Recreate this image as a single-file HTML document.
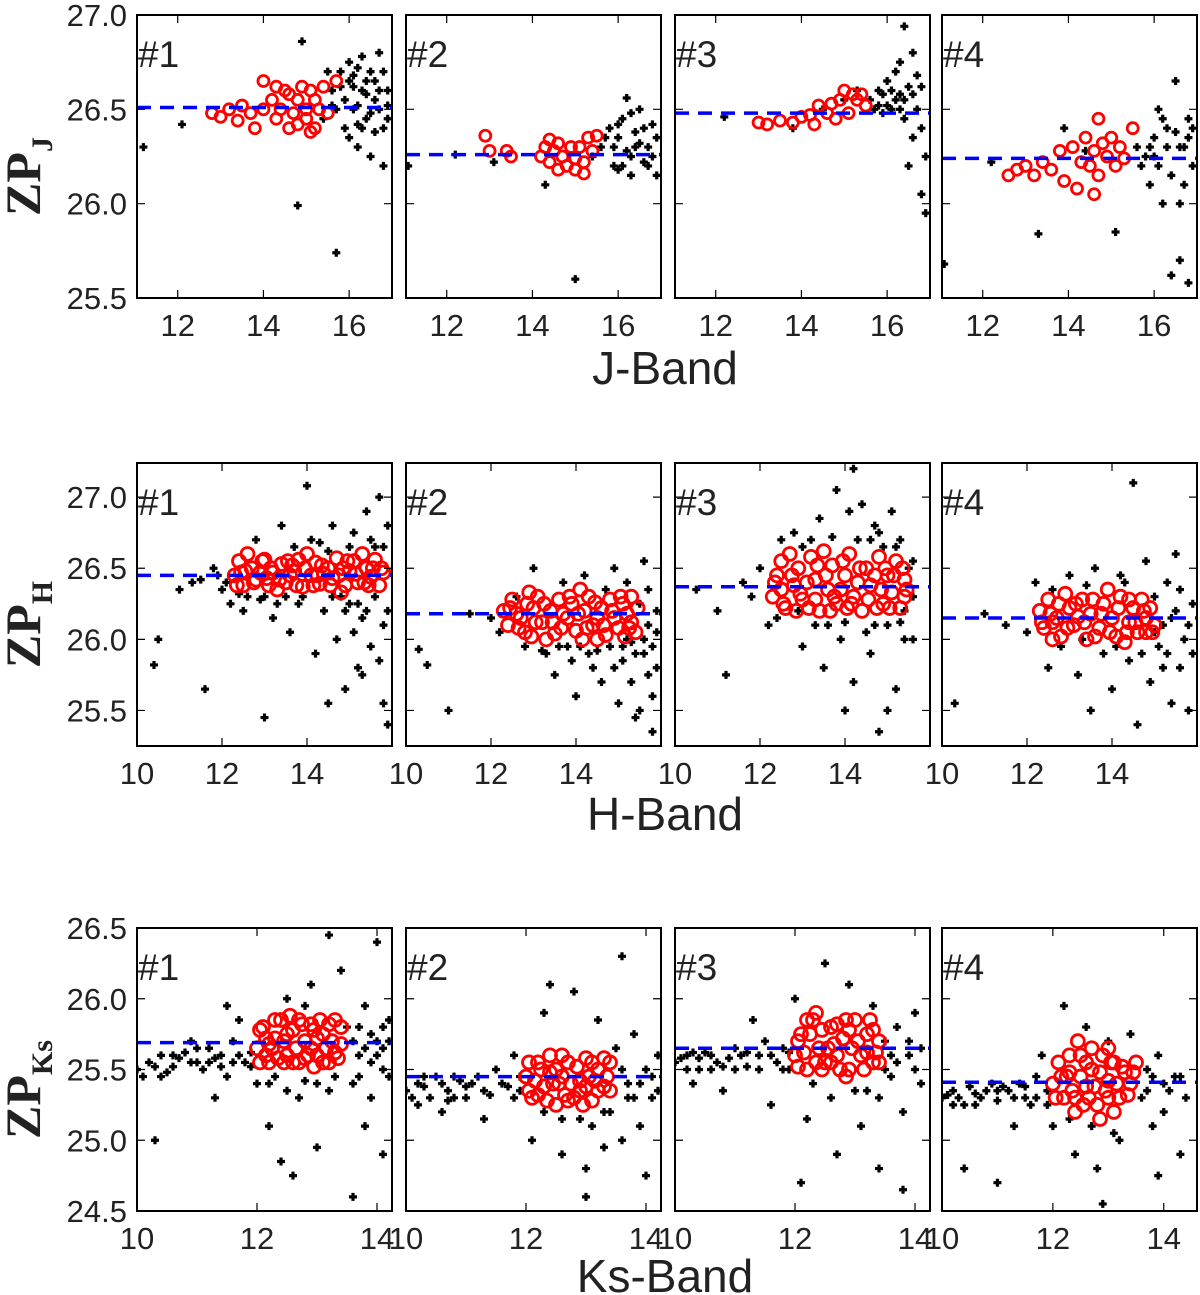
<!DOCTYPE html>
<html><head><meta charset="utf-8"><style>
html,body{margin:0;padding:0;background:#fff;}
svg{display:block;}
text{font-family:"Liberation Sans",sans-serif;fill:#222;}
</style></head><body>
<svg id="chart" width="1200" height="1295" viewBox="0 0 1200 1295" xmlns="http://www.w3.org/2000/svg"></svg>
<script>
// ---- data ----
const panelLabels = ["#1","#2","#3","#4"];
const bandTitles = ["J-Band","H-Band","Ks-Band"];
const yTitleSubs = ["J","H","Ks"];
const xDomains = [[[11.05,17],[11.05,17],[11.05,17],[11.05,17]],[[10,16],[10,16],[10,16],[10,16]],[[10,14.25],[10,14.25],[10,14.25],[10,14.6]]];
const yDomains = [[25.5,27.0],[25.25,27.24],[24.5,26.5]];
const xTicks = [[12,14,16],[10,12,14],[10,12,14]];
const yTicks = [[25.5,26.0,26.5,27.0],[25.5,26.0,26.5,27.0],[24.5,25.0,25.5,26.0,26.5]];
const zpLevels = [[26.51,26.26,26.48,26.24],[26.45,26.18,26.37,26.15],[25.69,25.45,25.65,25.41]];
const blackPts = [[
"11.2,26.3 12.1,26.42 14.9,26.86 14.8,25.99 15.7,25.74 15.4,26.45 15.6,26.6 15.8,26.7 15.9,26.55 16.0,26.65 16.1,26.5 16.2,26.72 16.3,26.6 16.4,26.45 16.5,26.7 16.6,26.55 16.7,26.8 16.8,26.4 16.9,26.6 16.0,26.35 16.2,26.3 16.5,26.25 16.8,26.2 16.3,26.78 15.9,26.4 16.6,26.65 16.4,26.58 16.7,26.5 16.1,26.62 15.7,26.5 16.9,26.45 16.2,26.52 16.5,26.48 16.0,26.75 16.8,26.7 15.5,26.7 16.3,26.4 15.8,26.62 16.1,26.68 16.4,26.65 16.7,26.6 16.9,26.52 15.6,26.52 16.2,26.42 16.6,26.38",
"11.1,26.2 12.2,26.26 13.1,26.22 14.3,26.1 15.0,25.6 15.4,26.25 15.6,26.3 15.8,26.4 15.9,26.2 16.0,26.35 16.1,26.45 16.2,26.28 16.3,26.15 16.4,26.38 16.5,26.5 16.6,26.22 16.7,26.3 16.8,26.42 16.9,26.15 16.0,26.18 16.3,26.48 16.6,26.4 16.2,26.56 15.7,26.35 16.8,26.25 16.4,26.3 16.9,26.35 16.1,26.2 15.9,26.3 16.5,26.32 16.7,26.2 16.3,26.25 16.0,26.42",
"12.2,26.46 13.8,26.4 14.5,26.5 15.0,26.55 15.3,26.6 15.6,26.55 15.8,26.6 15.9,26.48 16.0,26.65 16.1,26.5 16.2,26.7 16.3,26.58 16.4,26.45 16.5,26.62 16.6,26.8 16.7,26.5 16.8,26.4 16.9,26.25 16.4,26.94 16.8,26.05 16.9,25.95 16.5,26.2 16.2,26.55 16.7,26.68 16.0,26.52 15.7,26.5 16.3,26.75 16.6,26.35 15.9,26.58 16.1,26.6 16.4,26.55 16.6,26.58 16.8,26.62 15.8,26.52 16.3,26.5",
"11.1,25.68 12.2,26.22 13.3,25.84 13.9,26.4 14.4,26.28 15.1,25.85 15.6,26.3 15.8,26.25 15.9,26.1 16.0,26.35 16.1,26.2 16.2,26.45 16.3,26.3 16.4,26.15 16.5,26.65 16.6,26.0 16.7,26.3 16.8,26.45 16.9,26.2 16.4,25.62 16.6,25.7 16.8,25.58 16.9,26.4 16.1,26.5 16.5,26.38 16.2,26.0 16.7,26.1 15.7,26.2 16.0,26.25 16.3,26.4 16.6,26.3 16.8,26.35 15.9,26.3"
],[
"10.4,25.82 10.5,26.0 11.0,26.35 11.3,26.4 11.6,25.65 11.8,26.5 12.0,26.35 12.2,26.25 12.5,26.2 12.8,26.7 13.0,25.45 13.2,26.15 13.4,26.8 13.6,26.05 13.8,26.25 14.0,27.08 14.1,26.7 14.2,25.9 14.4,26.2 14.5,25.55 14.6,26.8 14.7,26.0 14.9,25.65 15.0,26.25 15.1,26.75 15.2,25.8 15.3,26.15 15.4,26.9 15.5,25.95 15.6,26.3 15.7,27.0 15.8,25.55 15.9,26.2 15.3,25.75 15.6,26.65 15.8,26.1 15.9,25.4 15.1,26.05 14.8,26.3 13.9,26.3 12.9,26.28 15.5,26.7 14.3,26.68 15.7,25.85 13.5,26.3 14.6,26.3 15.2,26.25 12.4,26.32 11.5,26.42 11.9,26.45 12.1,26.4 13.0,26.3 13.7,26.65 14.5,26.62 15.0,26.65 15.8,26.65 15.9,26.8 15.4,26.2 14.9,26.2 13.3,26.25 12.6,26.3",
"10.3,25.93 10.5,25.82 11.0,25.5 11.5,26.18 12.0,26.15 12.2,26.05 12.8,25.95 13.0,26.5 13.3,25.9 13.5,25.75 13.7,26.4 13.9,25.85 14.0,25.6 14.2,26.45 14.4,25.8 14.6,25.7 14.8,25.95 14.9,26.5 15.0,25.55 15.1,25.85 15.2,26.4 15.3,25.7 15.4,25.45 15.5,26.25 15.6,25.9 15.7,26.1 15.8,25.6 15.9,26.2 15.6,26.55 15.8,25.35 15.3,25.98 14.7,26.35 15.9,25.8 15.5,25.5 14.1,25.95 12.6,26.3 13.6,25.95 14.5,25.92 15.1,25.95 15.7,25.75 15.6,26.0 15.8,25.95 15.9,26.05 15.4,25.9 14.9,25.8 14.3,25.9 13.8,25.95 13.2,25.92 15.7,26.35 15.2,26.0",
"10.5,26.35 11.0,26.2 11.2,25.75 11.6,26.4 12.0,26.5 12.2,26.1 12.8,26.75 13.0,25.95 13.4,26.85 13.5,25.8 13.8,27.05 13.9,26.0 14.0,25.5 14.1,26.9 14.2,25.7 14.4,26.95 14.5,26.05 14.6,25.9 14.7,26.8 14.8,25.35 14.9,26.65 15.0,26.1 15.1,26.9 15.2,25.65 15.3,26.7 15.4,26.0 15.5,26.5 15.6,26.3 14.2,27.2 15.0,25.5 13.6,26.1 15.6,26.0 12.9,26.2 15.4,26.2 13.2,26.7 14.6,26.7 11.8,26.3 12.5,26.7 13.0,26.65 13.7,26.72 14.3,26.7 14.8,26.75 15.2,26.65 12.4,26.15 13.3,26.1 14.0,26.12 14.7,26.1 15.3,26.12 15.6,26.55",
"10.3,25.55 11.0,26.18 11.5,26.1 12.0,26.05 12.2,26.4 12.5,25.8 13.0,26.45 13.2,25.75 13.5,25.5 13.6,26.5 13.8,25.9 14.0,25.65 14.2,26.45 14.4,25.85 14.6,25.4 14.8,26.55 14.9,25.7 15.0,26.3 15.1,25.95 15.2,26.1 15.3,26.4 15.4,25.55 15.5,26.2 15.6,25.8 15.7,26.0 15.8,25.5 15.9,26.25 15.5,26.6 14.5,27.1 15.6,26.35 13.3,26.0 15.2,25.8 12.8,25.95 14.1,25.95 15.0,26.05 15.4,26.15 15.8,26.1 15.9,25.9 15.3,25.9 14.7,25.9 12.6,26.35 13.4,26.38 14.3,26.4"
],[
"10.0,25.5 10.2,25.55 10.4,25.6 10.5,25.48 10.7,25.58 10.8,25.62 11.0,25.55 11.1,25.5 11.2,25.65 11.4,25.6 11.5,25.45 11.6,25.7 11.8,25.55 11.9,25.62 10.3,25.0 10.9,25.7 11.3,25.3 11.7,25.85 12.0,25.4 12.2,25.1 12.4,24.85 12.5,26.0 12.7,25.3 12.9,26.1 13.0,24.95 13.2,25.35 13.4,26.2 13.5,25.8 13.6,25.4 13.7,25.6 13.8,25.95 13.9,25.3 14.0,25.7 14.1,25.5 14.2,25.85 13.6,24.6 13.2,26.45 14.0,26.4 12.6,24.75 13.8,25.1 14.1,24.9 12.8,25.95 11.5,25.95 13.9,25.55 14.2,25.45 10.6,25.52 11.3,25.58 12.3,25.45 12.8,25.42 13.3,25.45 13.9,25.75 14.1,25.8 10.1,25.45 10.3,25.52 10.6,25.6 10.9,25.55 11.2,25.55 11.4,25.52 11.7,25.6 11.9,25.52 10.4,25.45 11.0,25.65 11.6,25.55 13.6,25.7 13.7,25.8 13.8,25.65 14.0,25.6 14.2,25.7 13.7,25.45 14.1,25.65 12.5,25.35 13.0,25.4 12.2,25.4",
"10.0,25.35 10.2,25.4 10.4,25.3 10.5,25.45 10.7,25.35 10.9,25.42 11.0,25.3 11.2,25.45 11.4,25.32 11.5,25.5 11.7,25.38 11.9,25.45 10.6,25.2 11.3,25.15 11.8,25.6 12.1,25.0 12.3,25.9 12.6,24.9 12.8,26.05 13.0,24.8 13.2,25.85 13.4,25.2 13.5,25.65 13.6,25.0 13.7,25.4 13.8,25.75 13.9,25.1 14.0,25.5 14.1,25.3 14.2,25.6 13.6,26.3 13.0,24.6 14.0,24.75 12.4,26.1 13.3,24.95 10.3,25.38 10.8,25.3 11.1,25.4 12.6,25.15 13.1,25.1 13.8,25.3 10.1,25.3 10.3,25.45 10.6,25.4 10.8,25.45 11.0,25.38 11.3,25.35 11.6,25.4 11.8,25.3 11.9,25.35 10.2,25.25 10.7,25.28 13.6,25.5 13.7,25.3 13.9,25.4 14.1,25.45 14.2,25.35 12.3,25.2 12.9,25.15 13.3,25.2",
"10.0,25.55 10.2,25.6 10.4,25.5 10.5,25.62 10.7,25.55 10.9,25.58 11.0,25.65 11.2,25.52 11.4,25.6 11.5,25.7 11.7,25.55 11.9,25.62 10.3,25.4 10.8,25.35 11.3,25.85 11.6,25.25 12.0,26.0 12.2,25.15 12.5,26.25 12.7,24.9 12.9,26.1 13.1,25.1 13.3,25.95 13.4,25.3 13.5,25.7 13.6,25.45 13.7,25.8 13.8,25.2 13.9,25.6 14.0,25.9 14.1,25.4 12.1,24.7 13.4,24.8 13.8,24.65 10.1,25.58 10.6,25.5 11.1,25.6 11.8,25.5 12.3,25.4 13.0,25.35 10.2,25.5 10.3,25.62 10.6,25.6 10.8,25.52 11.0,25.5 11.2,25.62 11.4,25.5 11.6,25.6 11.8,25.65 11.9,25.5 10.4,25.58 13.5,25.5 13.6,25.6 13.7,25.55 13.9,25.7 14.0,25.5 14.1,25.65 12.6,25.3 13.2,25.35",
"10.0,25.3 10.2,25.35 10.4,25.25 10.5,25.38 10.7,25.3 10.9,25.4 11.0,25.28 11.2,25.35 11.4,25.4 11.5,25.3 11.7,25.45 11.9,25.35 10.4,24.8 11.0,24.7 11.3,25.1 11.8,25.6 12.2,25.95 12.4,24.9 12.6,25.8 12.8,24.8 13.0,25.7 13.2,25.0 13.4,25.75 13.6,25.3 13.7,25.5 13.8,25.1 13.9,25.6 14.0,25.2 14.2,25.45 14.4,25.3 13.9,24.75 14.3,24.9 12.9,24.55 10.1,25.32 10.6,25.33 11.1,25.38 11.6,25.25 12.0,25.1 13.1,25.05 10.2,25.25 10.3,25.3 10.6,25.25 10.8,25.35 11.0,25.35 11.3,25.3 11.5,25.38 11.7,25.3 11.9,25.25 13.7,25.35 13.8,25.45 14.0,25.4 14.1,25.35 14.3,25.45 12.3,25.15 12.7,25.1"
]];
const redPts = [[
"12.8,26.48 13.0,26.46 13.2,26.5 13.4,26.44 13.5,26.52 13.7,26.48 13.8,26.4 14.0,26.65 14.0,26.5 14.2,26.55 14.3,26.45 14.4,26.5 14.5,26.6 14.6,26.58 14.7,26.48 14.8,26.55 14.8,26.42 14.9,26.62 15.0,26.5 15.0,26.45 15.1,26.6 15.2,26.4 15.2,26.55 15.3,26.5 15.4,26.62 15.5,26.48 15.7,26.65 14.6,26.4 15.1,26.38 14.3,26.62",
"12.9,26.36 13.0,26.28 13.4,26.28 13.5,26.25 14.2,26.25 14.3,26.3 14.4,26.22 14.5,26.28 14.6,26.32 14.7,26.25 14.8,26.2 14.9,26.3 15.0,26.24 15.0,26.18 15.1,26.3 15.2,26.22 15.3,26.35 15.4,26.28 15.5,26.36 14.6,26.18 15.2,26.16 14.4,26.34",
"13.0,26.43 13.2,26.42 13.5,26.44 13.8,26.43 14.0,26.46 14.3,26.42 14.4,26.52 14.6,26.48 14.8,26.45 14.9,26.55 15.0,26.6 15.2,26.58 15.3,26.55 15.4,26.58 15.5,26.52 15.1,26.48 14.7,26.53 14.2,26.47",
"12.6,26.15 12.8,26.18 13.0,26.2 13.2,26.15 13.4,26.22 13.6,26.18 13.8,26.28 13.9,26.12 14.1,26.3 14.3,26.22 14.4,26.35 14.5,26.2 14.6,26.28 14.7,26.15 14.8,26.32 14.9,26.25 15.0,26.35 15.1,26.2 15.2,26.3 15.3,26.24 15.5,26.4 14.2,26.08 14.6,26.05 14.7,26.45"
],[
"12.3,26.45 12.4,26.55 12.5,26.38 12.7,26.5 12.8,26.42 13.0,26.56 13.1,26.38 13.2,26.47 13.4,26.53 13.5,26.4 13.7,26.48 13.8,26.56 13.9,26.37 14.1,26.45 14.2,26.54 14.3,26.39 14.5,26.5 14.6,26.43 14.7,26.57 14.9,26.38 15.0,26.48 15.1,26.55 15.2,26.4 15.4,26.5 15.5,26.44 15.6,26.56 15.7,26.38 12.6,26.6 13.3,26.35 14.0,26.6 14.8,26.33 15.3,26.6 12.9,26.47 13.6,26.45 14.4,26.46 15.8,26.47 12.35,26.38 12.55,26.48 12.75,26.4 12.95,26.55 13.15,26.5 13.35,26.42 13.55,26.55 13.75,26.38 13.95,26.5 14.15,26.38 14.35,26.52 14.55,26.38 14.75,26.45 14.95,26.55 15.15,26.46 15.35,26.4 15.55,26.5 15.75,26.5 12.45,26.47 13.05,26.43 13.65,26.52 14.25,26.45 14.85,26.5 15.45,26.38",
"12.3,26.2 12.4,26.1 12.5,26.28 12.7,26.15 12.8,26.05 13.0,26.22 13.1,26.3 13.2,26.12 13.4,26.2 13.5,26.04 13.6,26.28 13.8,26.15 13.9,26.25 14.0,26.06 14.2,26.2 14.3,26.3 14.4,26.1 14.6,26.22 14.7,26.03 14.8,26.28 14.9,26.15 15.0,26.08 15.1,26.25 15.2,26.18 15.3,26.3 15.4,26.05 12.9,26.33 14.1,26.35 13.3,26.0 14.5,26.0 12.6,26.18 13.7,26.18 14.5,26.15 15.3,26.12 12.45,26.22 12.65,26.08 12.85,26.25 13.05,26.12 13.25,26.25 13.45,26.12 13.65,26.08 13.85,26.3 14.05,26.18 14.25,26.08 14.45,26.26 14.65,26.1 14.85,26.2 15.05,26.3 15.25,26.08 15.45,26.22 12.95,26.02 14.15,26.0 15.15,26.02",
"12.3,26.3 12.4,26.45 12.5,26.55 12.6,26.22 12.8,26.38 12.9,26.5 13.0,26.28 13.2,26.58 13.3,26.42 13.4,26.2 13.6,26.35 13.7,26.52 13.8,26.25 14.0,26.45 14.1,26.6 14.2,26.3 14.4,26.2 14.5,26.5 14.6,26.38 14.8,26.58 14.9,26.25 15.0,26.45 15.1,26.33 15.2,26.55 15.3,26.22 15.4,26.42 13.1,26.4 14.3,26.4 13.5,26.62 12.7,26.6 12.5,26.35 13.9,26.35 14.7,26.45 15.4,26.3 13.3,26.28 12.35,26.4 12.55,26.25 12.75,26.45 12.95,26.32 13.15,26.22 13.35,26.52 13.55,26.45 13.75,26.3 13.95,26.55 14.15,26.25 14.35,26.5 14.55,26.28 14.75,26.22 14.95,26.5 15.15,26.45 15.35,26.5 15.45,26.35 12.85,26.2 14.05,26.22 15.05,26.22 13.65,26.2 14.85,26.35",
"12.3,26.2 12.4,26.08 12.5,26.28 12.7,26.15 12.8,26.02 13.0,26.22 13.1,26.1 13.3,26.28 13.4,26.0 13.5,26.18 13.7,26.08 13.8,26.25 14.0,26.15 14.1,26.02 14.2,26.3 14.4,26.12 14.5,26.22 14.6,26.05 14.7,26.28 14.8,26.15 14.9,26.22 15.0,26.1 12.9,26.32 13.9,26.35 14.3,25.98 12.6,26.12 13.2,26.16 14.8,26.05 12.35,26.12 12.55,26.18 12.75,26.25 12.95,26.08 13.15,26.25 13.35,26.12 13.55,26.28 13.75,26.18 13.95,26.05 14.15,26.22 14.35,26.05 14.55,26.12 14.75,26.2 14.95,26.05 13.6,26.02 14.4,26.28 12.6,26.0"
],[
"12.0,25.65 12.1,25.8 12.2,25.55 12.3,25.72 12.4,25.85 12.5,25.6 12.6,25.78 12.7,25.55 12.8,25.7 12.9,25.82 13.0,25.6 13.1,25.75 13.2,25.55 13.3,25.85 13.4,25.68 12.15,25.6 12.55,25.88 12.95,25.52 13.25,25.7 12.45,25.7 12.05,25.55 12.25,25.65 12.65,25.65 13.05,25.85 13.35,25.58 12.85,25.6 12.05,25.78 12.15,25.72 12.35,25.58 12.5,25.75 12.75,25.82 12.9,25.65 13.1,25.55 13.2,25.82 13.3,25.62 13.4,25.8 12.3,25.85 12.6,25.55 12.8,25.58 13.0,25.72 12.2,25.68 12.45,25.55 12.7,25.85 13.15,25.65 12.95,25.78",
"12.0,25.45 12.1,25.3 12.2,25.55 12.3,25.38 12.4,25.6 12.5,25.25 12.6,25.45 12.7,25.55 12.8,25.3 12.9,25.42 13.0,25.58 13.1,25.28 13.2,25.5 13.3,25.38 13.4,25.55 12.25,25.5 12.75,25.4 13.05,25.45 12.05,25.35 12.45,25.4 12.95,25.25 13.35,25.45 12.65,25.32 12.05,25.55 12.15,25.42 12.35,25.28 12.5,25.5 12.6,25.6 12.85,25.52 12.9,25.35 13.1,25.55 13.2,25.35 13.3,25.58 13.4,25.35 12.2,25.32 12.4,25.48 12.7,25.28 13.0,25.38 13.15,25.42 12.55,25.4",
"12.0,25.6 12.1,25.75 12.2,25.5 12.3,25.85 12.4,25.65 12.5,25.55 12.6,25.8 12.7,25.6 12.8,25.72 12.9,25.5 13.0,25.85 13.1,25.6 13.2,25.75 13.3,25.55 13.4,25.7 12.35,25.9 12.85,25.45 13.25,25.85 12.05,25.7 12.45,25.5 12.95,25.65 13.35,25.62 12.65,25.68 12.05,25.52 12.15,25.62 12.25,25.75 12.45,25.78 12.55,25.65 12.75,25.5 12.85,25.85 13.05,25.7 13.15,25.5 13.3,25.78 13.4,25.55 12.2,25.85 12.6,25.55 12.9,25.78 13.2,25.62 12.35,25.55 12.7,25.82",
"12.0,25.4 12.1,25.55 12.2,25.3 12.3,25.48 12.4,25.2 12.5,25.6 12.6,25.38 12.7,25.5 12.8,25.25 12.9,25.6 13.0,25.42 13.1,25.55 13.2,25.3 13.3,25.48 13.4,25.4 13.5,25.55 12.45,25.7 12.85,25.15 13.1,25.2 12.25,25.45 12.65,25.3 13.0,25.3 12.6,25.55 12.05,25.3 12.15,25.45 12.35,25.35 12.5,25.45 12.55,25.25 12.75,25.38 12.85,25.48 12.95,25.35 13.05,25.55 13.15,25.4 13.25,25.52 13.35,25.32 13.45,25.48 12.3,25.6 12.7,25.65 13.0,25.65 12.4,25.3"
]];

// ---- layout ----
const NS = "http://www.w3.org/2000/svg";
const svg = document.getElementById("chart");
const panelLefts = [137,406,675,942];
const rowTops = [15,463,928];
const PW = 255, PH = 283;
const titleYs = [384,830,1292];
const circleR = [5.5,6.5,6.5];

function mk(tag, attrs, parent){
  const e = document.createElementNS(NS, tag);
  for (const k in attrs) e.setAttribute(k, attrs[k]);
  (parent||svg).appendChild(e);
  return e;
}
function parsePts(s){ return s.trim().split(/\s+/).map(p=>p.split(",").map(Number)); }

for (let r=0;r<3;r++){
  const [y0,y1] = yDomains[r];
  const top = rowTops[r];
  const sy = v => top + PH - (v-y0)/(y1-y0)*PH;
  for (let c=0;c<4;c++){
    const [x0,x1] = xDomains[r][c];
    const left = panelLefts[c];
    const sx = v => left + (v-x0)/(x1-x0)*PW;
    const g = mk("g",{});
    
    
    const clipId = "clip"+r+c;
    const cp = mk("clipPath",{id:clipId},g);
    mk("rect",{x:left,y:top,width:PW,height:PH},cp);
    const pts = mk("g",{"clip-path":"url(#"+clipId+")"},g);
    
    
    parsePts(blackPts[r][c]).forEach(([x,y])=>{
      const d = mk("path",{d:`M${sx(x)-4},${sy(y)}h8M${sx(x)},${sy(y)-4}v8`,stroke:"#000","stroke-width":3.2},pts);
      
      
    });
    parsePts(redPts[r][c]).forEach(([x,y])=>{
      const ci = mk("circle",{cx:sx(x),cy:sy(y),r:circleR[r],fill:"none",stroke:"#ff0000","stroke-width":2.8},pts);
      
      
    });
    const ln = mk("line",{x1:left,x2:left+PW,y1:sy(zpLevels[r][c]),y2:sy(zpLevels[r][c]),stroke:"#0000ff","stroke-width":3.5,"stroke-dasharray":"14,9"},pts);
    
    
    const fr = mk("rect",{x:left,y:top,width:PW,height:PH,fill:"none",stroke:"#000","stroke-width":2},g);
    
    
    xTicks[r].forEach(t=>{
      const X = sx(t);
      mk("path",{d:`M${X},${top+PH}v-8M${X},${top}v8`,stroke:"#000","stroke-width":1.2},g);
      const tl = mk("text",{x:X,y:top+PH+38,"text-anchor":"middle","font-size":31},g);
      tl.textContent = t;
      
      
    });
    yTicks[r].forEach(t=>{
      const Y = sy(t);
      mk("path",{d:`M${left},${Y}h8M${left+PW},${Y}h-8`,stroke:"#000","stroke-width":1.2},g);
      if (c===0){
        const tl = mk("text",{x:left-10,y:Y+11,"text-anchor":"end","font-size":31},g);
        tl.textContent = t.toFixed(1);
        
        
      }
    });
    const pl = mk("text",{x:left+1,y:top+52,"font-size":37},g);
    pl.textContent = panelLabels[c];
    
    
  }
  const bt = mk("text",{x:665,y:titleYs[r],"text-anchor":"middle","font-size":46},svg);
  bt.textContent = bandTitles[r];
  
  
  const cy = top + PH/2 + 20;
  const yt = mk("text",{transform:`translate(40,${cy}) rotate(-90)`,"text-anchor":"middle","font-size":50,style:"font-family:'Liberation Serif',serif;font-weight:bold"},svg);
  
  
  const t1 = mk("tspan",{},yt); t1.textContent = "ZP";
  const t2 = mk("tspan",{dy:12,"font-size":30},yt); t2.textContent = yTitleSubs[r];
}
</script>
</body></html>
